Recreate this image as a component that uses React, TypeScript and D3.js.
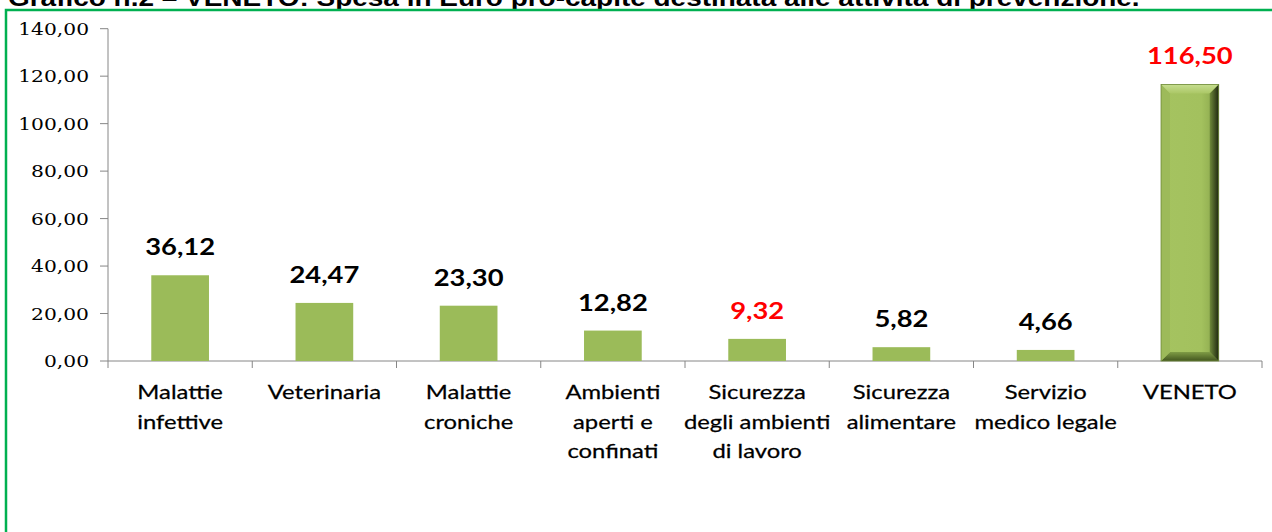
import React from "react";
import * as d3 from "d3";

const categories: string[][] = [
  ["Malattie", "infettive"],
  ["Veterinaria"],
  ["Malattie", "croniche"],
  ["Ambienti", "aperti e", "confinati"],
  ["Sicurezza", "degli ambienti", "di lavoro"],
  ["Sicurezza", "alimentare"],
  ["Servizio", "medico legale"],
  ["VENETO"],
];
const values: number[] = [36.12, 24.47, 23.3, 12.82, 9.32, 5.82, 4.66, 116.5];
const redLabel: boolean[] = [false, false, false, false, true, false, false, true];
const yTicks: number[] = [0, 20, 40, 60, 80, 100, 120, 140];
const title = "Grafico n.2 – VENETO: Spesa in Euro pro-capite destinata alle attività di prevenzione.";

const W = 1272;
const H = 532;
const SX = 1.19; // horizontal stretch of the original picture

const fmt = (v: number) => d3.format(".2f")(v).replace(".", ",");

export default function App() {
  const keys = categories.map((c) => c.join(" "));
  const x = d3.scaleBand<string>().domain(keys).range([108, 1262]).paddingInner(0.6).paddingOuter(0.3);
  const y = d3.scaleLinear().domain([0, 140]).range([361, 28.7]);
  const step = x.step();
  const x0 = 108;
  const axisColor = "#868686";

  const st = (tx: number, ty: number) => `translate(${tx},${ty}) scale(${SX},1)`;

  return (
    <svg width={W} height={H} style={{ position: "absolute", left: 0, top: 0, background: "#fff" }}>
      <defs>
        <linearGradient id="rightBev" x1="0" x2="1" y1="0" y2="0">
          <stop offset="0" stopColor="#6f8a3a" />
          <stop offset="1" stopColor="#1f2810" />
        </linearGradient>
        <linearGradient id="topBev" x1="0" x2="0" y1="0" y2="1">
          <stop offset="0" stopColor="#c6de90" />
          <stop offset="1" stopColor="#abc766" />
        </linearGradient>
        <linearGradient id="botBev" x1="0" x2="0" y1="0" y2="1">
          <stop offset="0" stopColor="#7f9c45" />
          <stop offset="1" stopColor="#43561f" />
        </linearGradient>
        <linearGradient id="body" x1="0" x2="1" y1="0" y2="0">
          <stop offset="0" stopColor="#a5c360" />
          <stop offset="0.7" stopColor="#a3c15e" />
          <stop offset="1" stopColor="#86a249" />
        </linearGradient>
      </defs>

      {/* title (cropped at top, as in the reference) */}
      <text
        transform={st(8, 6)}
        fontFamily="'Liberation Sans', Arial, sans-serif"
        fontWeight="bold"
        fontSize={23.5}
        fill="#000"
      >
        {title}
      </text>

      {/* green frame */}
      <rect x={6} y={10} width={W + 20} height={H + 20} fill="none" stroke="#00b050" strokeWidth={2.5} />

      {/* y axis */}
      <line x1={x0} x2={x0} y1={y(140)} y2={y(0)} stroke={axisColor} strokeWidth={1} />
      {yTicks.map((t) => (
        <g key={t}>
          <line x1={x0 - 8} x2={x0} y1={y(t)} y2={y(t)} stroke={axisColor} strokeWidth={1} />
          <text
            transform={st(89, y(t) + 6)}
            textAnchor="end"
            fontFamily="'DejaVu Serif', serif"
            fontSize={17}
            fill="#000"
          >
            {fmt(t)}
          </text>
        </g>
      ))}

      {/* x axis */}
      <line x1={x0} x2={x0 + step * keys.length} y1={y(0)} y2={y(0)} stroke={axisColor} strokeWidth={1} />
      {d3.range(keys.length + 1).map((i) => (
        <line key={i} x1={x0 + i * step} x2={x0 + i * step} y1={y(0)} y2={y(0) + 7} stroke={axisColor} strokeWidth={1} />
      ))}

      {/* bars */}
      {values.map((v, i) => {
        const bx = x(keys[i])!;
        const bw = x.bandwidth();
        const top = y(v);
        const bot = y(0);
        if (i === values.length - 1) {
          const b = 9;
          const xr = bx + bw;
          return (
            <g key={i}>
              <rect x={bx} y={top} width={bw} height={bot - top} fill="url(#body)" />
              <polygon points={`${bx},${top} ${xr},${top} ${xr - b},${top + b} ${bx + b},${top + b}`} fill="url(#topBev)" />
              <polygon points={`${bx},${bot} ${xr},${bot} ${xr - b},${bot - b} ${bx + b},${bot - b}`} fill="url(#botBev)" />
              <polygon points={`${bx},${top} ${bx + b},${top + b} ${bx + b},${bot - b} ${bx},${bot}`} fill="#9dba5a" />
              <polygon points={`${xr},${top} ${xr - b},${top + b} ${xr - b},${bot - b} ${xr},${bot}`} fill="url(#rightBev)" />
              <rect x={bx} y={top} width={bw} height={bot - top} fill="none" stroke="#6f8a3a" strokeWidth={0.8} />
            </g>
          );
        }
        return <rect key={i} x={bx} y={top} width={bw} height={bot - top} fill="#9bbb59" />;
      })}

      {/* value labels */}
      {values.map((v, i) => (
        <text
          key={i}
          transform={st(x(keys[i])! + x.bandwidth() / 2, y(v) - 20)}
          textAnchor="middle"
          fontFamily="Lato, 'Open Sans', sans-serif"
          fontWeight="bold"
          fontSize={23}
          fill={redLabel[i] ? "#ff0000" : "#000"}
        >
          {fmt(v)}
        </text>
      ))}

      {/* category labels */}
      {categories.map((lines, i) =>
        lines.map((ln, j) => (
          <text
            key={`${i}-${j}`}
            transform={st(x(keys[i])! + x.bandwidth() / 2, 399 + j * 29.5)}
            textAnchor="middle"
            fontFamily="Lato, 'Open Sans', sans-serif"
            fontSize={20}
            fill="#000"
            stroke="#000"
            strokeWidth={0.25}
          >
            {ln}
          </text>
        ))
      )}
    </svg>
  );
}
